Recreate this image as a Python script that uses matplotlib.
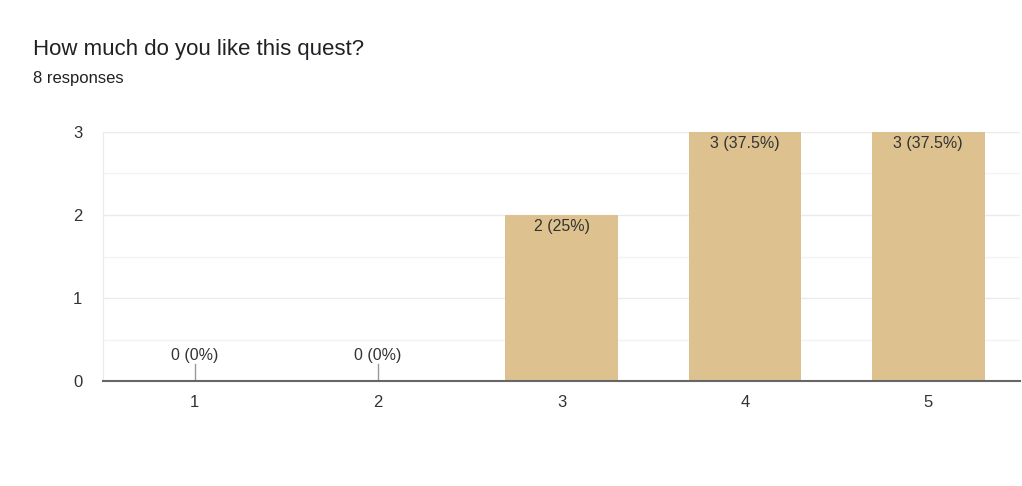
import matplotlib.pyplot as plt
from matplotlib.ticker import MultipleLocator

plt.rcParams['font.family'] = ['Liberation Sans', 'DejaVu Sans']

categories = ["1", "2", "3", "4", "5"]
counts = [0, 0, 2, 3, 3]
percents = ["0%", "0%", "25%", "37.5%", "37.5%"]
title = "How much do you like this quest?"
subtitle = "8 responses"

bar_color = "#ddc28f"
text_color = "#333333"

fig = plt.figure(figsize=(10.22, 4.86), dpi=100)
ax = fig.add_axes([103 / 1022, 105 / 486, 917 / 1022, 249 / 486])

x = list(range(1, len(categories) + 1))
ax.bar(x, counts, width=0.615, color=bar_color, zorder=2)

for xi, c, p in zip(x, counts, percents):
    label = f"{c} ({p})"
    if c == 0:
        ax.plot([xi, xi], [0, 0.2], color="#999999", lw=1, zorder=3)
        ax.text(xi, 0.22, label, ha="center", va="bottom", fontsize=11.5, color=text_color)
    else:
        ax.text(xi, c - 0.05, label, ha="center", va="top", fontsize=11.5, color=text_color)

ax.set_xlim(0.5, 5.5)
ax.set_ylim(0, 3)
ax.set_xticks(x)
ax.set_xticklabels(categories)
ax.yaxis.set_major_locator(MultipleLocator(1))
ax.yaxis.set_minor_locator(MultipleLocator(0.5))
ax.grid(axis="y", which="major", color="#ebebeb", lw=1, zorder=0)
ax.grid(axis="y", which="minor", color="#f3f3f3", lw=1, zorder=0)
ax.tick_params(axis="both", which="both", length=0, labelsize=12, colors=text_color)
ax.tick_params(axis="x", pad=10)
ax.tick_params(axis="y", pad=15)
for s in ["top", "right"]:
    ax.spines[s].set_visible(False)
ax.spines["left"].set_color("#ebebeb")
ax.spines["bottom"].set_color("#666666")
ax.spines["bottom"].set_linewidth(1.5)
ax.spines["bottom"].set_zorder(4)

fig.text(33 / 1022, 1 - 49 / 486, title, fontsize=16, color="#202124", va="center")
fig.text(33 / 1022, 1 - 78 / 486, subtitle, fontsize=12, color="#202124", va="center")

plt.savefig("out.png", dpi=100)
